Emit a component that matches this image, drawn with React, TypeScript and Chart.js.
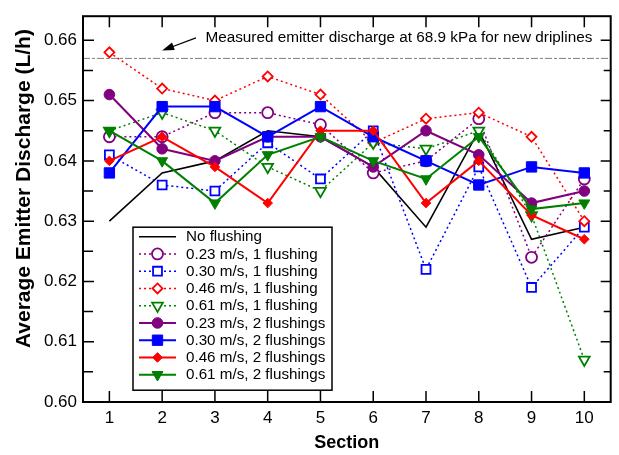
import React, { useEffect, useRef } from "react";
import { Chart, registerables } from "chart.js";
import { drawPoint } from "chart.js/helpers";
Chart.register(...registerables);

const sections = [1, 2, 3, 4, 5, 6, 7, 8, 9, 10];
const noFlushing = [0.630, 0.638, 0.640, 0.645, 0.644, 0.639, 0.629, 0.645, 0.627, 0.629];
const v023one = [0.644, 0.644, 0.648, 0.648, 0.646, 0.638, 0.640, 0.647, 0.624, 0.637];
const v030one = [0.641, 0.636, 0.635, 0.643, 0.637, 0.645, 0.622, 0.639, 0.619, 0.629];
const v046one = [0.658, 0.652, 0.650, 0.654, 0.651, 0.643, 0.647, 0.648, 0.644, 0.630];
const v061one = [0.645, 0.648, 0.645, 0.639, 0.635, 0.643, 0.642, 0.645, 0.631, 0.607];
const v023two = [0.651, 0.642, 0.640, 0.644, 0.644, 0.639, 0.645, 0.641, 0.633, 0.635];
const v030two = [0.638, 0.649, 0.649, 0.644, 0.649, 0.644, 0.640, 0.636, 0.639, 0.638];
const v046two = [0.640, 0.644, 0.639, 0.633, 0.645, 0.645, 0.633, 0.640, 0.631, 0.627];
const v061two = [0.645, 0.640, 0.633, 0.641, 0.644, 0.640, 0.637, 0.644, 0.632, 0.633];

const yMajor = [0.60, 0.61, 0.62, 0.63, 0.64, 0.65, 0.66];
const yMinor = [0.605, 0.615, 0.625, 0.635, 0.645, 0.655];
const refValue = 0.657;
const annotationText = "Measured emitter discharge at 68.9 kPa for new driplines";
const xTitle = "Section";
const yTitle = "Average Emitter Discharge (L/h)";

const FONT = "'Liberation Sans', Arial, Helvetica, sans-serif";

export default function App() {
  const ref = useRef<HTMLCanvasElement>(null);
  useEffect(() => {
    const canvas = ref.current!;
    const purple = "#800080", blue = "#0000ff", red = "#ff0000", green = "#008000";
    const series: any[] = [
      { label: "No flushing", data: noFlushing, color: "#000000", dotted: false, style: false, radius: 0, open: false, rot: 0, lw: 1.6 },
      { label: "0.23 m/s, 1 flushing", data: v023one, color: purple, dotted: true, style: "circle", radius: 5.5, open: true, rot: 0, lw: 1.5 },
      { label: "0.30 m/s, 1 flushing", data: v030one, color: blue, dotted: true, style: "rect", radius: 6.3, open: true, rot: 0, lw: 1.5 },
      { label: "0.46 m/s, 1 flushing", data: v046one, color: red, dotted: true, style: "rectRot", radius: 5, open: true, rot: 0, lw: 1.5 },
      { label: "0.61 m/s, 1 flushing", data: v061one, color: green, dotted: true, style: "triangle", radius: 6.2, open: true, rot: 180, lw: 1.5 },
      { label: "0.23 m/s, 2 flushings", data: v023two, color: purple, dotted: false, style: "circle", radius: 5.3, open: false, rot: 0, lw: 2 },
      { label: "0.30 m/s, 2 flushings", data: v030two, color: blue, dotted: false, style: "rect", radius: 7.3, open: false, rot: 0, lw: 2 },
      { label: "0.46 m/s, 2 flushings", data: v046two, color: red, dotted: false, style: "rectRot", radius: 4.8, open: false, rot: 0, lw: 2 },
      { label: "0.61 m/s, 2 flushings", data: v061two, color: green, dotted: false, style: "triangle", radius: 6.3, open: false, rot: 180, lw: 2 },
    ];
    const dash = [2, 3];
    const openBW = 1.8;
    const datasets = series.map((s, i) => ({
      label: s.label,
      data: sections.map((x, j) => ({ x, y: s.data[j] })),
      borderColor: s.color,
      borderWidth: s.lw,
      borderDash: s.dotted ? dash : [],
      pointStyle: s.style,
      pointRadius: s.radius,
      pointRotation: s.rot,
      pointBorderColor: s.color,
      pointBackgroundColor: s.open ? "#ffffff" : s.color,
      pointBorderWidth: s.open ? openBW : 1,
      pointHoverRadius: s.radius,
      tension: 0,
      fill: false,
      order: series.length - i,
      clip: false,
    }));

    const decor = {
      id: "decor",
      beforeDatasetsDraw(chart: any) {
        const { ctx, chartArea: a, scales } = chart;
        const py = scales.y.getPixelForValue(refValue);
        ctx.save();
        ctx.strokeStyle = "#7f7f7f";
        ctx.lineWidth = 1;
        ctx.setLineDash([7, 2, 3, 2]);
        ctx.beginPath();
        ctx.moveTo(a.left, py);
        ctx.lineTo(a.right, py);
        ctx.stroke();
        ctx.restore();
      },
      afterDatasetsDraw(chart: any) {
        const { ctx, chartArea: a, scales } = chart;
        const xs = scales.x, ys = scales.y;
        ctx.save();
        ctx.setLineDash([]);
        ctx.strokeStyle = "#000";
        // ticks
        ctx.lineWidth = 1.5;
        ctx.beginPath();
        sections.forEach((v) => {
          const px = xs.getPixelForValue(v);
          ctx.moveTo(px, a.bottom); ctx.lineTo(px, a.bottom - 11);
          ctx.moveTo(px, a.top); ctx.lineTo(px, a.top + 11);
        });
        yMajor.forEach((v) => {
          const py = ys.getPixelForValue(v);
          ctx.moveTo(a.left, py); ctx.lineTo(a.left + 11, py);
          ctx.moveTo(a.right, py); ctx.lineTo(a.right - 10, py);
        });
        yMinor.forEach((v) => {
          const py = ys.getPixelForValue(v);
          ctx.moveTo(a.left, py); ctx.lineTo(a.left + 10, py);
          ctx.moveTo(a.right, py); ctx.lineTo(a.right - 7, py);
        });
        ctx.stroke();
        // frame
        ctx.lineWidth = 2;
        ctx.strokeRect(a.left, a.top, a.right - a.left, a.bottom - a.top);

        // y title
        ctx.save();
        ctx.fillStyle = "#000";
        ctx.font = `bold 21px ${FONT}`;
        ctx.textAlign = "center";
        ctx.textBaseline = "middle";
        ctx.translate(24, ys.getPixelForValue(0.6354));
        ctx.rotate(-Math.PI / 2);
        ctx.fillText(yTitle, 0, 0);
        ctx.restore();

        // annotation
        ctx.fillStyle = "#000";
        ctx.font = `15.3px ${FONT}`;
        ctx.textAlign = "left";
        ctx.textBaseline = "middle";
        ctx.fillText(annotationText, xs.getPixelForValue(2.82), ys.getPixelForValue(0.6605));
        const tx = xs.getPixelForValue(2.64), ty = ys.getPixelForValue(0.6604);
        const hx = xs.getPixelForValue(2.0), hy = ys.getPixelForValue(0.6583);
        const ang = Math.atan2(hy - ty, hx - tx);
        ctx.lineWidth = 1.3;
        ctx.beginPath();
        ctx.moveTo(tx, ty);
        ctx.lineTo(hx - Math.cos(ang) * 8, hy - Math.sin(ang) * 8);
        ctx.stroke();
        ctx.beginPath();
        ctx.moveTo(hx, hy);
        ctx.lineTo(hx - Math.cos(ang) * 12 + Math.sin(ang) * 4, hy - Math.sin(ang) * 12 - Math.cos(ang) * 4);
        ctx.lineTo(hx - Math.cos(ang) * 12 - Math.sin(ang) * 4, hy - Math.sin(ang) * 12 + Math.cos(ang) * 4);
        ctx.closePath();
        ctx.fill();

        // legend
        const lx = a.left + 50, ly = a.top + 211, lw = 199, lh = 163;
        ctx.fillStyle = "#fff";
        ctx.fillRect(lx, ly, lw, lh);
        ctx.lineWidth = 1.5;
        ctx.strokeStyle = "#000";
        ctx.strokeRect(lx, ly, lw, lh);
        ctx.font = `15.2px ${FONT}`;
        series.forEach((s, i) => {
          const cy = ly + 9.5 + i * 17.25;
          ctx.save();
          ctx.strokeStyle = s.color;
          ctx.lineWidth = s.lw;
          ctx.setLineDash(s.dotted ? dash : []);
          ctx.beginPath();
          ctx.moveTo(lx + 6, cy);
          ctx.lineTo(lx + 43, cy);
          ctx.stroke();
          ctx.setLineDash([]);
          if (s.style) {
            ctx.fillStyle = s.open ? "#fff" : s.color;
            ctx.lineWidth = s.open ? openBW : 1;
            drawPoint(ctx, { pointStyle: s.style, rotation: s.rot, radius: s.radius, borderWidth: s.open ? openBW : 1 }, lx + 24.5, cy);
          }
          ctx.restore();
          ctx.fillStyle = "#000";
          ctx.textAlign = "left";
          ctx.textBaseline = "middle";
          ctx.fillText(s.label, lx + 53, cy + 0.5);
        });
        ctx.restore();
      },
    };

    const chart = new Chart(canvas, {
      type: "line",
      data: { datasets },
      options: {
        responsive: false,
        animation: false,
        devicePixelRatio: 1,
        layout: { padding: { top: 11, right: 3, left: 0, bottom: 0 } },
        plugins: { legend: { display: false }, tooltip: { enabled: false } },
        events: [],
        scales: {
          x: {
            type: "linear",
            min: 0.5,
            max: 10.5,
            afterBuildTicks: (s: any) => { s.ticks = sections.map((v) => ({ value: v })); },
            afterFit: (s: any) => { s.height = 53; },
            grid: { display: false, drawTicks: false },
            border: { display: false },
            ticks: { color: "#000", font: { family: FONT, size: 17 }, padding: 6, callback: (v: any) => String(v), maxRotation: 0, autoSkip: false },
            title: { display: true, text: xTitle, color: "#000", font: { family: FONT, size: 18, weight: "bold" }, padding: { top: 0, bottom: 1 } },
          },
          y: {
            type: "linear",
            min: 0.6,
            max: 0.664,
            afterBuildTicks: (s: any) => { s.ticks = yMajor.map((v) => ({ value: v })); },
            afterFit: (s: any) => { s.width = 83; },
            grid: { display: false, drawTicks: false },
            border: { display: false },
            ticks: { color: "#000", font: { family: FONT, size: 17 }, padding: 6, callback: (v: any) => Number(v).toFixed(2), autoSkip: false },
            title: { display: false },
          },
        },
      } as any,
      plugins: [decor],
    });
    return () => chart.destroy();
  }, []);
  return (
    <div style={{ position: "absolute", left: 0, top: 0, width: 619, height: 455, background: "#fff" }}>
      <canvas ref={ref} width={619} height={455} style={{ display: "block", width: 619, height: 455 }} />
    </div>
  );
}
